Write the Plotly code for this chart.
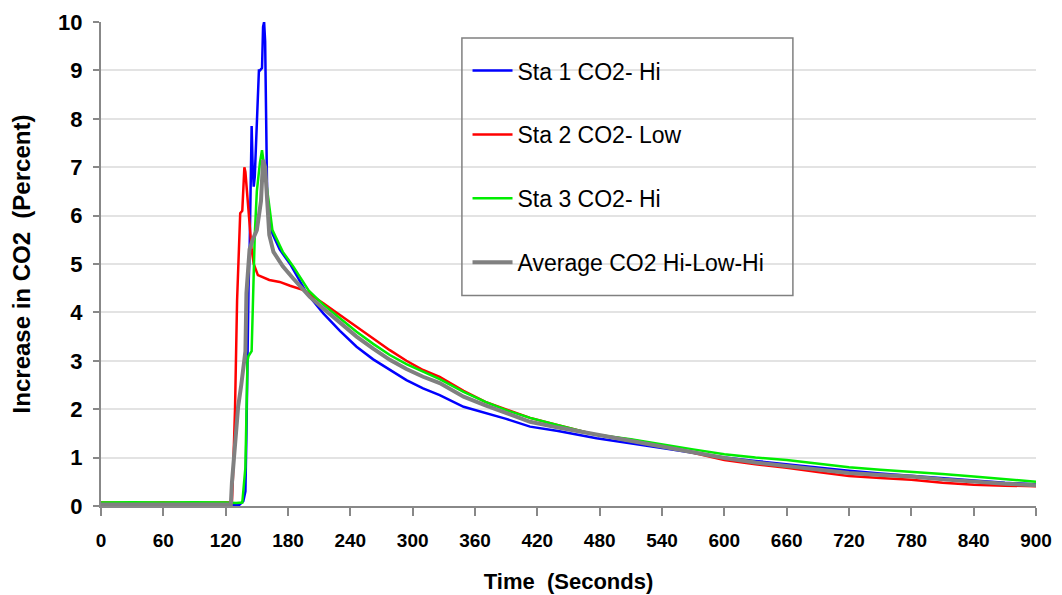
import plotly.graph_objects as go

# ---- data ----
t_sta1 = [0, 30, 60, 90, 120, 133, 137, 139, 140, 141, 142, 143, 144, 145, 146, 147, 148, 150, 151,
          152, 153, 155, 156, 157, 158, 159, 160, 162, 165, 172, 182, 198, 214, 230, 246, 262, 278,
          294, 310, 326, 349, 370, 390, 413, 440, 477, 510, 540, 570, 600, 630, 660, 690, 720, 750,
          780, 810, 840, 870, 900]
v_sta1 = [0.02, 0.02, 0.02, 0.02, 0.02, 0.02, 0.1, 0.3, 1.5, 3.5, 4.5, 5.2, 6.5, 7.85, 7.0, 6.6,
          6.8, 7.9, 8.5, 9.0, 9.0, 9.05, 9.9, 10.0, 9.6, 7.5, 6.3, 6.0, 5.63, 5.3, 5.0, 4.4, 3.98,
          3.62, 3.29, 3.03, 2.81, 2.6, 2.43, 2.29, 2.05, 1.92, 1.8, 1.64, 1.55, 1.4, 1.3, 1.2, 1.1,
          1.0, 0.93, 0.86, 0.8, 0.73, 0.67, 0.62, 0.57, 0.52, 0.48, 0.45]

t_sta2 = [0, 30, 60, 90, 120, 126, 127, 129, 131, 134, 136, 137, 138, 139, 141, 143, 145, 147, 151,
          162, 172, 182, 195, 214, 230, 246, 262, 278, 294, 310, 326, 349, 370, 390, 413, 440, 477,
          510, 540, 570, 600, 630, 660, 690, 720, 750, 780, 810, 840, 870, 900]
v_sta2 = [0.07, 0.06, 0.07, 0.06, 0.07, 0.07, 0.6, 2.0, 4.25, 6.05, 6.1, 6.8, 7.0, 6.9, 6.3, 5.8,
          5.3, 5.0, 4.77, 4.67, 4.63, 4.55, 4.46, 4.19, 3.95, 3.70, 3.46, 3.22, 3.0, 2.81, 2.67,
          2.38, 2.15, 2.0, 1.82, 1.67, 1.47, 1.37, 1.25, 1.1, 0.95, 0.86, 0.79, 0.7, 0.62, 0.58,
          0.54, 0.48, 0.44, 0.42, 0.41]

t_sta3 = [0, 30, 60, 90, 120, 130, 136, 139, 141, 142, 145, 146, 148, 150, 153, 155, 157, 160, 165,
          175, 185, 200, 214, 230, 246, 262, 278, 294, 310, 326, 349, 370, 390, 413, 440, 477, 510,
          540, 570, 600, 630, 660, 690, 720, 750, 780, 810, 840, 870, 900]
v_sta3 = [0.07, 0.08, 0.07, 0.08, 0.07, 0.06, 0.07, 0.8, 3.0, 3.1, 3.2, 4.25, 5.6, 6.5, 7.1, 7.35,
          7.0, 6.5, 5.7, 5.25, 4.95, 4.45, 4.16, 3.88, 3.60, 3.35, 3.12, 2.93, 2.77, 2.62, 2.36,
          2.15, 1.98, 1.82, 1.67, 1.47, 1.38, 1.27, 1.17, 1.07, 1.0, 0.95, 0.87, 0.8, 0.75, 0.71,
          0.66, 0.61, 0.55, 0.5]

t_avg = [0, 30, 60, 90, 120, 125, 126, 129, 132, 135, 137, 139, 140, 143, 146, 150, 152, 154, 156,
         158, 160, 162, 166, 175, 185, 201, 214, 230, 246, 262, 278, 294, 310, 326, 349, 370, 390,
         413, 440, 477, 510, 540, 570, 600, 630, 660, 690, 720, 750, 780, 810, 840, 870, 900]
v_avg = [0.03, 0.03, 0.03, 0.03, 0.03, 0.03, 0.47, 1.3, 2.05, 2.5, 2.8, 3.2, 4.4, 5.3, 5.5, 5.7,
         6.0, 6.3, 7.15, 7.0, 6.3, 5.6, 5.25, 4.95, 4.7, 4.32, 4.08, 3.78, 3.50, 3.25, 3.02, 2.83,
         2.67, 2.54, 2.26, 2.08, 1.92, 1.74, 1.62, 1.47, 1.35, 1.23, 1.1, 0.99, 0.9, 0.83, 0.75,
         0.68, 0.64, 0.61, 0.55, 0.5, 0.46, 0.43]

names = ["Sta 1 CO2- Hi", "Sta 2 CO2- Low", "Sta 3 CO2- Hi", "Average CO2 Hi-Low-Hi"]
x_ticks = list(range(0, 901, 60))
y_ticks = list(range(0, 11))

series = [(t_sta1, v_sta1, "#0000ff", 2.5),
          (t_sta2, v_sta2, "#ff0000", 2.5),
          (t_sta3, v_sta3, "#00ee00", 2.5),
          (t_avg, v_avg, "#808080", 4)]

fig = go.Figure()
for i, ((tx, vy, col, w), nm) in enumerate(zip(series, names)):
    fig.add_trace(go.Scatter(x=tx, y=vy, mode="lines", name=nm, legendgroup=str(i),
                             line=dict(color=col, width=w)))

FONT = "Liberation Sans, Arial, sans-serif"
fig.update_layout(
    width=1062, height=595,
    margin=dict(l=93, r=34, t=14, b=97),
    paper_bgcolor="white", plot_bgcolor="white",
    font=dict(family=FONT, color="black"),
    showlegend=True,
    legend=dict(x=0.392, y=0.944, xanchor="left", yanchor="top",
                bgcolor="rgba(0,0,0,0)", borderwidth=0,
                font=dict(size=23, family=FONT),
                tracegroupgap=31, itemwidth=40),
    xaxis=dict(range=[0, 900], tickvals=x_ticks, ticktext=[str(v) for v in x_ticks],
               showgrid=False, zeroline=False, showline=True, linecolor="#888888", linewidth=2,
               ticks="outside", ticklen=8, tickcolor="#888888", tickwidth=1.5,
               ticklabelstandoff=8, automargin=False,
               tickfont=dict(size=19, family=FONT, weight="bold"),
               title=dict(text="<b>Time  (Seconds)</b>", standoff=24,
                          font=dict(size=22, family=FONT))),
    yaxis=dict(range=[0, 10], tickvals=y_ticks, showgrid=True, gridcolor="#e3e3e3", gridwidth=2,
               zeroline=False, showline=True, linecolor="#888888", linewidth=2,
               ticks="outside", ticklen=6, tickcolor="#888888", tickwidth=1.5,
               ticklabelstandoff=6, automargin=False,
               tickfont=dict(size=22, weight="bold"),
               title=dict(text="<b>Increase in CO2  (Percent)</b>", standoff=22,
                          font=dict(size=24))),
    shapes=[dict(type="rect", xref="paper", yref="paper", x0=0.386, x1=0.74, y0=0.435, y1=0.967,
                 line=dict(color="#808080", width=1.5), fillcolor="rgba(0,0,0,0)")],
)

fig.write_html("out.html")
